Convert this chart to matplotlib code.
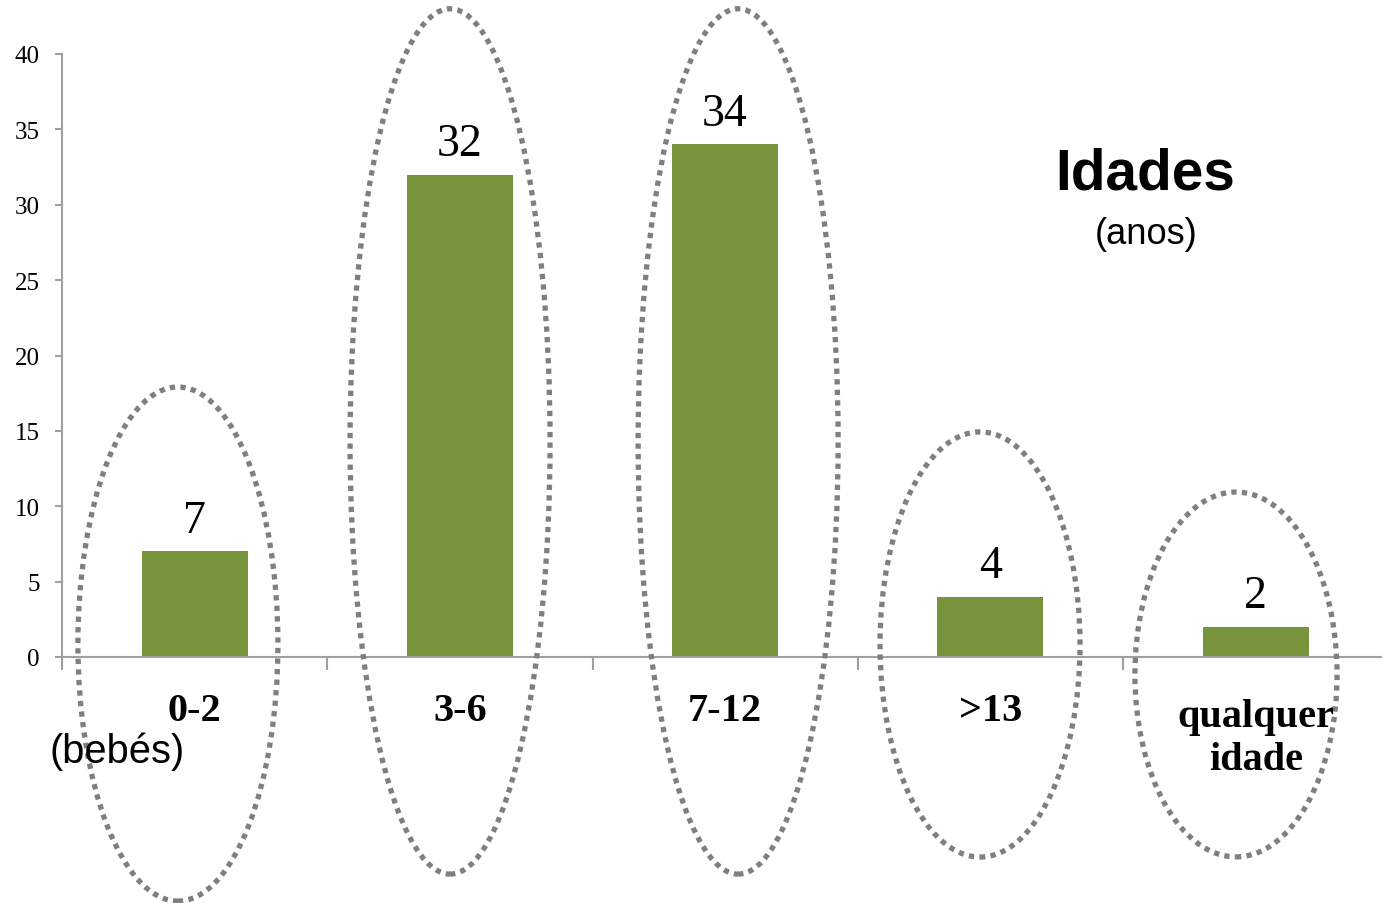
import matplotlib
matplotlib.use("Agg")
import matplotlib.pyplot as plt
from matplotlib.patches import Ellipse
from matplotlib import font_manager as fm

categorias = ["0-2", "3-6", "7-12", ">13", "qualquer\nidade"]
valores = [7, 32, 34, 4, 2]
yticks = [0, 5, 10, 15, 20, 25, 30, 35, 40]

# ellipses pontilhadas: (cx, cy, largura, altura) em unidades de dados
elipses = [(-0.063, 0.86, 0.754, 34.1),
           (0.963, 14.3, 0.754, 57.4),
           (2.049, 14.3, 0.754, 57.4),
           (2.961, 0.83, 0.754, 28.2),
           (3.926, -1.16, 0.762, 24.2)]

nomes = {f.name for f in fm.fontManager.ttflist}
if "Liberation Sans Narrow" in nomes:
    narrow, k = "Liberation Sans Narrow", 1.0
else:
    narrow, k = "Liberation Sans", 0.87  # sem fonte estreita: reduzir um pouco
serif = "Liberation Serif"

W, H = 1382, 904
fig = plt.figure(figsize=(W / 100, H / 100), dpi=100)
ax = fig.add_axes([62 / W, 246 / H, 1326.25 / W, 603 / H])

x = list(range(len(categorias)))
ax.bar(x, valores, width=0.4, color="#77933C", zorder=2)
ax.set_xlim(-0.5, 4.5)
ax.set_ylim(0, 40)

for xi, v in zip(x, valores):
    ax.annotate(str(v), (xi, v), xytext=(0, 14), textcoords="offset points",
                ha="center", va="baseline", fontsize=33, family=serif)

for cx, cy, w, h in elipses:
    ax.add_patch(Ellipse((cx, cy), w, h, fill=False, edgecolor="#7F7F7F",
                         linewidth=3.8, linestyle=(0, (1, 1)), clip_on=False, zorder=3))

for s in ["top", "right"]:
    ax.spines[s].set_visible(False)
for s in ["left", "bottom"]:
    ax.spines[s].set_color("#A0A0A0")
    ax.spines[s].set_linewidth(1.5)

ax.set_yticks(yticks)
ax.tick_params(axis="y", direction="out", length=5, width=1.5, color="#A0A0A0", pad=11)
for lab in ax.get_yticklabels():
    lab.set_family(serif)
    lab.set_fontsize(18)

ax.set_xticks([])
ax.set_xticks([i - 0.5 for i in range(len(categorias) + 1)], minor=True)
ax.tick_params(axis="x", which="minor", direction="out", length=9, width=1.5, color="#A0A0A0")

for xi, c in zip(x, categorias):
    y0 = -4.2 if "\n" not in c else -7.43
    ax.text(xi, y0, c, ha="center", va="baseline", fontsize=29,
            fontweight="bold", family=serif, linespacing=1.2)

fig.text(117 / W, 1 - 763 / H, "(bebés)", ha="center", va="baseline",
         fontsize=33 * k, family=narrow)
fig.text(1145 / W, 1 - 190 / H, "Idades", ha="center", va="baseline",
         fontsize=47 * k, fontweight="bold", family=narrow)
fig.text(1146 / W, 1 - 244 / H, "(anos)", ha="center", va="baseline",
         fontsize=30 * k, family=narrow)

fig.savefig("out.png", dpi=100)
